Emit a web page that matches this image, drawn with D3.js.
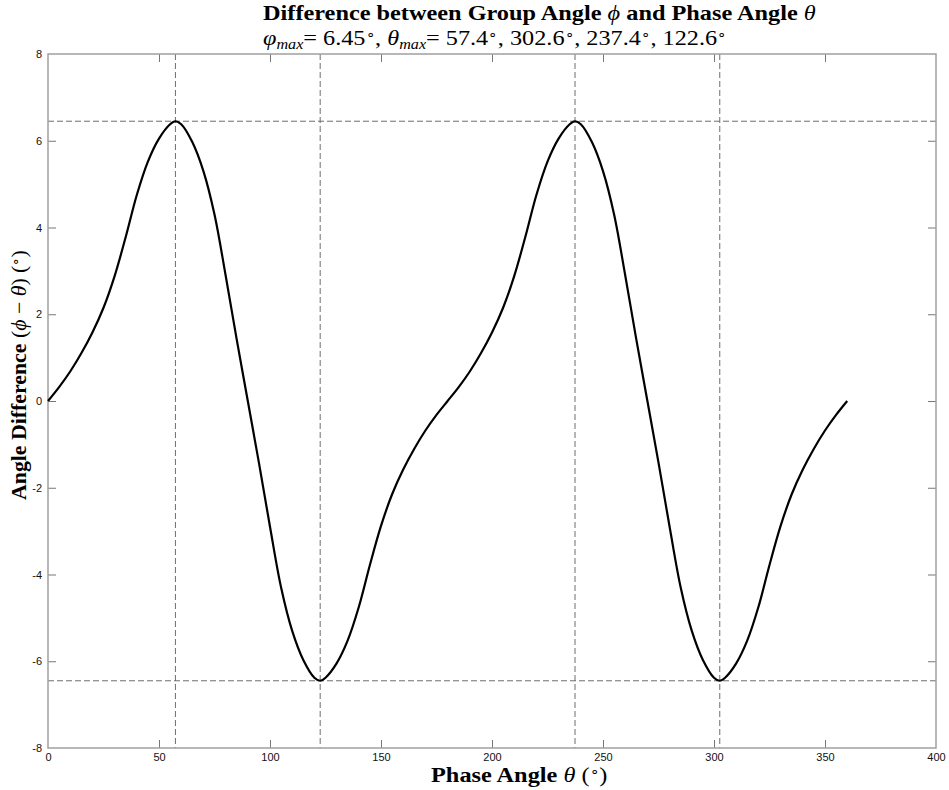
<!DOCTYPE html>
<html>
<head>
<meta charset="utf-8">
<script src="https://cdn.jsdelivr.net/npm/d3@7"></script>
<style>
  html, body { margin: 0; padding: 0; background: #fff; }
  svg { display: block; }
</style>
</head>
<body>
<svg id="chart" width="949" height="790"></svg>
<script>
// ---- data ----
const theta = [
  0, 5, 10, 15, 20, 25, 30, 35, 40, 45, 50, 55, 57.4, 60, 65, 70, 75, 80, 85, 90,
  95, 100, 105, 110, 115, 120, 122.6, 125, 130, 135, 140, 145, 150, 155, 160, 165, 170, 175, 180,
  185, 190, 195, 200, 205, 210, 215, 220, 225, 230, 235, 237.4, 240, 245, 250, 255, 260, 265, 270,
  275, 280, 285, 290, 295, 300, 302.6, 305, 310, 315, 320, 325, 330, 335, 340, 345, 350, 355, 360
];
const angleDiff = [
  0, 0.32, 0.68, 1.1, 1.58, 2.15, 2.88, 3.78, 4.75, 5.52, 6.05, 6.38, 6.45, 6.38, 5.97, 5.3, 4.3, 2.9, 1.42, 0,
  -1.42, -2.9, -4.3, -5.3, -5.97, -6.38, -6.45, -6.38, -6.05, -5.52, -4.75, -3.78, -2.88, -2.15, -1.58, -1.1, -0.68, -0.32, 0,
  0.32, 0.68, 1.1, 1.58, 2.15, 2.88, 3.78, 4.75, 5.52, 6.05, 6.38, 6.45, 6.38, 5.97, 5.3, 4.3, 2.9, 1.42, 0,
  -1.42, -2.9, -4.3, -5.3, -5.97, -6.38, -6.45, -6.38, -6.05, -5.52, -4.75, -3.78, -2.88, -2.15, -1.58, -1.1, -0.68, -0.32, 0
];
const phiMax = 6.45;
const thetaMax = [57.4, 302.6, 237.4, 122.6];
const xTicks = [0, 50, 100, 150, 200, 250, 300, 350, 400];
const yTicks = [-8, -6, -4, -2, 0, 2, 4, 6, 8];

// ---- layout ----
const svg = d3.select("#chart");
const L = 48, R = 936, T = 54, B = 748;
const x = d3.scaleLinear().domain([0, 400]).range([L, R]);
const y = d3.scaleLinear().domain([-8, 8]).range([B, T]);

const tickFont = "'Liberation Sans', Arial, sans-serif";
const serif = "'Liberation Serif', 'Times New Roman', serif";

// dashed reference lines
const g = svg.append("g");
[phiMax, -phiMax].forEach(v => {
  g.append("line").attr("x1", L).attr("x2", R).attr("y1", y(v)).attr("y2", y(v))
    .attr("stroke", "#6e6e6e").attr("stroke-width", 1).attr("stroke-dasharray", "6,3");
});
thetaMax.forEach(t => {
  g.append("line").attr("x1", x(t)).attr("x2", x(t)).attr("y1", T).attr("y2", B)
    .attr("stroke", "#6e6e6e").attr("stroke-width", 1).attr("stroke-dasharray", "6,3");
});

// axes (ticks inside, mirrored)
const xb = svg.append("g").attr("transform", `translate(0,${B})`)
  .call(d3.axisBottom(x).tickValues(xTicks).tickSize(-8).tickPadding(5).tickFormat(d3.format("d")));
const xt = svg.append("g").attr("transform", `translate(0,${T})`)
  .call(d3.axisTop(x).tickValues(xTicks).tickSize(-8).tickFormat(""));
const yl = svg.append("g").attr("transform", `translate(${L},0)`)
  .call(d3.axisLeft(y).tickValues(yTicks).tickSize(-8).tickPadding(6).tickFormat(d => String(d)));
const yr = svg.append("g").attr("transform", `translate(${R},0)`)
  .call(d3.axisRight(y).tickValues(yTicks).tickSize(-8).tickFormat(""));

[xb, xt, yl, yr].forEach(a => {
  a.select(".domain").remove();
  a.selectAll(".tick line").attr("stroke", "#777").attr("stroke-width", 1);
  a.selectAll(".tick text").attr("fill", "#111").style("font-family", tickFont).style("font-size", "11px");
});
[xb, xt].forEach(a => a.selectAll(".tick").filter(d => d === 0 || d === 400).select("line").remove());
[yl, yr].forEach(a => a.selectAll(".tick").filter(d => d === 8 || d === -8).select("line").remove());

// box
svg.append("rect").attr("x", L).attr("y", T).attr("width", R - L).attr("height", B - T)
  .attr("fill", "none").attr("stroke", "#a0a0a0").attr("stroke-width", 1.5);

// curve
const line = d3.line().x(d => x(d[0])).y(d => y(d[1])).curve(d3.curveCatmullRom.alpha(0.5));
svg.append("path").datum(theta.map((t, i) => [t, angleDiff[i]]))
  .attr("d", line).attr("fill", "none").attr("stroke", "#000").attr("stroke-width", 2.2)
  .attr("stroke-linejoin", "round");

// ---- titles (glyphs widened horizontally, like the extended TeX fonts) ----
function deg(sel, size) {
  sel.append("tspan").attr("baseline-shift", "7px").style("font-size", size).style("font-weight", "normal").text("∘");
}
function place(sel, px, py, target, rotate) {
  const w = sel.node().getBBox().width;
  const s = target / w;
  sel.attr("transform", `translate(${px},${py})` + (rotate ? " rotate(-90)" : "") + ` scale(${s},1)`);
}

const t1 = svg.append("text").style("font-family", serif).style("font-size", "21px").attr("fill", "#000");
t1.append("tspan").style("font-weight", "bold").text("Difference between Group Angle ");
t1.append("tspan").style("font-style", "italic").text("ϕ");
t1.append("tspan").style("font-weight", "bold").text(" and Phase Angle ");
t1.append("tspan").style("font-style", "italic").text("θ");
place(t1, 263, 20, 553);

const t2 = svg.append("text").style("font-family", serif).style("font-size", "21px").attr("fill", "#000");
t2.append("tspan").style("font-style", "italic").text("φ");
t2.append("tspan").attr("baseline-shift", "-4px").style("font-style", "italic").style("font-size", "14px").text("max");
t2.append("tspan").text("= 6.45");
deg(t2, "13px");
t2.append("tspan").text(", ");
t2.append("tspan").style("font-style", "italic").text("θ");
t2.append("tspan").attr("baseline-shift", "-4px").style("font-style", "italic").style("font-size", "14px").text("max");
thetaMax.forEach((v, i) => {
  t2.append("tspan").text((i === 0 ? "= " : ", ") + d3.format(".1f")(v));
  deg(t2, "13px");
});
place(t2, 263, 45, 462);

// x label
const xl = svg.append("text").style("font-family", serif).style("font-size", "21px").attr("fill", "#000");
xl.append("tspan").style("font-weight", "bold").text("Phase Angle ");
xl.append("tspan").style("font-style", "italic").text("θ");
xl.append("tspan").text(" (");
deg(xl, "13px");
xl.append("tspan").text(")");
place(xl, 431, 782, 176);

// y label
const ylab = svg.append("text").style("font-family", serif).style("font-size", "21px").attr("fill", "#000");
ylab.append("tspan").style("font-weight", "bold").text("Angle Difference ");
ylab.append("tspan").text("(");
ylab.append("tspan").style("font-style", "italic").text("ϕ");
ylab.append("tspan").text(" − ");
ylab.append("tspan").style("font-style", "italic").text("θ");
ylab.append("tspan").text(") (");
deg(ylab, "13px");
ylab.append("tspan").text(")");
place(ylab, 26, 500, 250, true);
</script>
</body>
</html>
